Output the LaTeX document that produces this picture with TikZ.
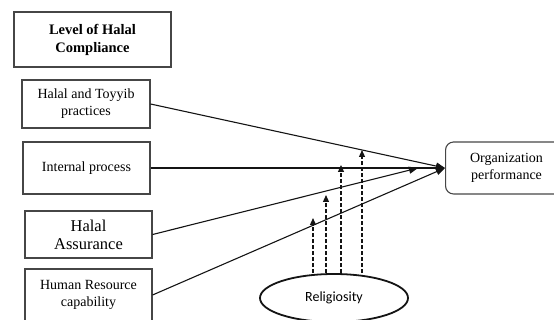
\documentclass[tikz,border=0pt]{standalone}
\usepackage{fontspec}
\setmainfont{Liberation Serif}
\newfontfamily\religFont{Carlito}
\usepackage{tikz}
\usetikzlibrary{calc,arrows.meta,positioning,shapes.geometric}
\definecolor{boxGray}{RGB}{70,70,70}
\definecolor{lineBlack}{RGB}{20,20,20}

\begin{document}
\begin{tikzpicture}[x=1pt,y=-1pt,
  box/.style={draw=boxGray, line width=1.1pt, align=center, inner sep=2pt,
    font=\fontsize{14}{17}\selectfont},
  link/.style={lineBlack, line width=1.1pt, -{Triangle[length=9pt,width=7pt]}},
  moder/.style={lineBlack, line width=1.2pt, dash pattern=on 4pt off 2pt, -{Triangle[length=7pt,width=6pt]}}]
\useasboundingbox (0,0) rectangle (554,320);
\clip (0,0) rectangle (554,320);

% left hand boxes
\node[box, minimum width=157pt, minimum height=55pt, font=\fontsize{14.5}{18}\selectfont\bfseries] (title) at (92.5,39.5) {Level of Halal\\Compliance};
\node[box, minimum width=128pt, minimum height=48pt] (hat) at (86,104) {Halal and Toyyib\\practices};
\node[box, minimum width=127pt, minimum height=52pt] (ip) at (86.5,168) {Internal process};
\node[box, minimum width=127pt, minimum height=47pt, font=\fontsize{16.5}{18}\selectfont] (ha) at (88.5,234.5) {Halal\\Assurance};
\node[box, minimum width=127pt, minimum height=52pt] (hrc) at (88.5,295) {Human Resource\\capability};

% outcome and moderator
\node[box, rounded corners=8pt, minimum width=122pt, minimum height=52pt, anchor=west] (perf) at (445,168) {Organization\\performance};
\node[draw=lineBlack, line width=1.8pt, ellipse, minimum width=148pt, minimum height=48pt,
  font=\religFont\fontsize{14}{16}\selectfont] (relig) at (334,298) {Religiosity};

\coordinate (haEnd) at ($(perf.west)+(-27,0)$);
\draw[link] (hat.east) -- (perf.west);
\draw[link] (ip.east) -- (perf.west);
\draw[link] (ha.east) -- (haEnd);
\draw[link] (hrc.east) -- (perf.west);

% dashed moderating arrows
\foreach \name/\x/\y in {m1/313/218,m2/326/195,m3/341/165,m4/362/150}
{
  \coordinate (\name) at (\x,\y);
  \draw[moder] (relig.north -| \name) -- (\name);
}
\end{tikzpicture}
\end{document}
